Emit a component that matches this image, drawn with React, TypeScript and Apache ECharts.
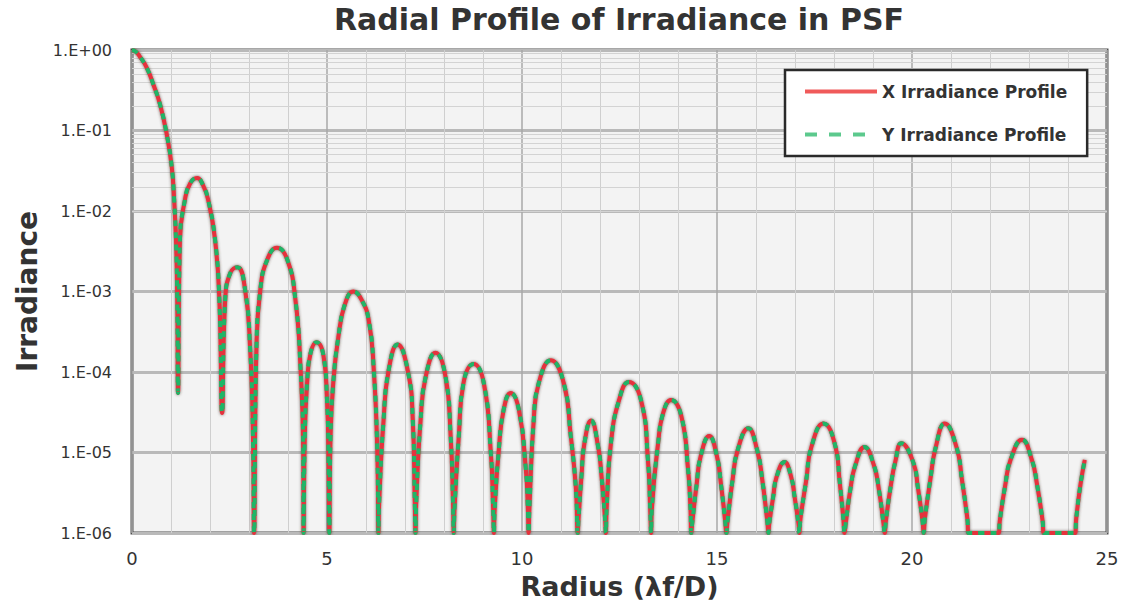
import React, { useEffect, useRef } from 'react';
import * as echarts from 'echarts';

const chartTitle = 'Radial Profile of Irradiance in PSF';
const xAxisName = 'Radius (λf/D)';
const yAxisName = 'Irradiance';
const seriesNames = ['X Irradiance Profile', 'Y Irradiance Profile'];

const radius = [
  0, 0.1, 0.2, 0.38, 0.55, 0.72, 0.9, 1.02, 1.08, 1.13, 1.16, 1.18,
  1.23, 1.36, 1.49, 1.67, 1.82, 1.95, 2.13, 2.24, 2.31,
  2.39, 2.52, 2.7, 2.9, 3.03, 3.1, 3.13,
  3.19, 3.29, 3.47, 3.72, 3.98, 4.19, 4.32, 4.39, 4.4,
  4.43, 4.49, 4.58, 4.73, 4.91, 5.0, 5.04, 5.06,
  5.09, 5.16, 5.29, 5.47, 5.68, 5.88, 6.07, 6.2, 6.29, 6.32,
  6.34, 6.45, 6.58, 6.81, 7.07, 7.2, 7.25, 7.27,
  7.29, 7.4, 7.53, 7.78, 8.04, 8.17, 8.23, 8.25,
  8.27, 8.38, 8.5, 8.76, 9.02, 9.2, 9.26, 9.28,
  9.3, 9.4, 9.53, 9.71, 9.92, 10.1, 10.15, 10.17,
  10.19, 10.3, 10.43, 10.74, 11.07, 11.25, 11.38, 11.43,
  11.45, 11.53, 11.6, 11.77, 11.95, 12.04, 12.13, 12.15,
  12.17, 12.28, 12.49, 12.74, 13.05, 13.23, 13.29, 13.31,
  13.33, 13.49, 13.62, 13.82, 14.08, 14.26, 14.32, 14.34,
  14.37, 14.48, 14.58, 14.8, 15.0, 15.1, 15.21, 15.24,
  15.27, 15.4, 15.53, 15.8, 16.03, 16.16, 16.29, 16.32,
  16.34, 16.44, 16.53, 16.73, 16.9, 16.99, 17.09, 17.11,
  17.14, 17.29, 17.42, 17.73, 18.04, 18.14, 18.24, 18.27,
  18.3, 18.42, 18.55, 18.78, 19.02, 19.15, 19.27, 19.3,
  19.33, 19.45, 19.57, 19.73, 20.03, 20.15, 20.27, 20.3,
  20.33, 20.47, 20.61, 20.84, 21.14, 21.28, 21.42, 21.45,
  22.22,
  22.25, 22.39, 22.53, 22.82, 23.07, 23.21, 23.35, 23.38,
  24.18, 24.21, 24.32, 24.43,
];

const xIrradiance = [
  1.0, 0.95, 0.83, 0.6, 0.37, 0.21, 0.085, 0.035, 0.014, 0.004, 8e-4, 5.5e-5,
  4.4e-3, 1.4e-2, 2.2e-2, 2.57e-2, 2.1e-2, 1.4e-2, 4.4e-3, 7.9e-4, 3.1e-5,
  7.9e-4, 1.7e-3, 2.0e-3, 1.05e-3, 1.9e-4, 1.7e-5, 1e-6,
  1.9e-4, 1.05e-3, 2.5e-3, 3.5e-3, 2.5e-3, 7.9e-4, 1.15e-4, 1.07e-5, 1e-6,
  1.5e-5, 7.3e-5, 1.73e-4, 2.35e-4, 1.6e-4, 4.5e-5, 8e-6, 1e-6,
  1.5e-5, 7.3e-5, 2.7e-4, 7.2e-4, 1.0e-3, 8e-4, 4.4e-4, 1.05e-4, 1e-5, 1e-6,
  2.5e-6, 2.5e-5, 1.05e-4, 2.2e-4, 1.05e-4, 2.5e-5, 2.5e-6, 1e-6,
  2.5e-6, 2.5e-5, 8.7e-5, 1.73e-4, 8.7e-5, 1.6e-5, 2.5e-6, 1e-6,
  2e-6, 1.6e-5, 7.3e-5, 1.26e-4, 7.3e-5, 1e-5, 2e-6, 1e-6,
  2e-6, 1e-5, 3.4e-5, 5.5e-5, 3.4e-5, 6e-6, 2e-6, 1e-6,
  2e-6, 2.5e-5, 7.3e-5, 1.4e-4, 7.3e-5, 1.6e-5, 3.7e-6, 1e-6,
  1.5e-6, 5.5e-6, 1.3e-5, 2.5e-5, 1.2e-5, 5e-6, 1.5e-6, 1e-6,
  2e-6, 1.3e-5, 4.5e-5, 7.5e-5, 4.5e-5, 8e-6, 1.8e-6, 1e-6,
  2e-6, 1.3e-5, 3.1e-5, 4.5e-5, 2.9e-5, 6e-6, 2e-6, 1e-6,
  1.4e-6, 4.1e-6, 8.9e-6, 1.6e-5, 8.9e-6, 4.1e-6, 1.4e-6, 1e-6,
  1.4e-6, 4.6e-6, 1.07e-5, 2.0e-5, 1.07e-5, 4.6e-6, 1.4e-6, 1e-6,
  1.3e-6, 2.8e-6, 5.0e-6, 7.6e-6, 5.0e-6, 2.8e-6, 1.3e-6, 1e-6,
  1.5e-6, 4.6e-6, 1.17e-5, 2.3e-5, 1.17e-5, 4.6e-6, 1.5e-6, 1e-6,
  1.3e-6, 3.5e-6, 7.0e-6, 1.17e-5, 7.0e-6, 3.5e-6, 1.3e-6, 1e-6,
  1.4e-6, 3.7e-6, 7.6e-6, 1.3e-5, 7.6e-6, 3.7e-6, 1.4e-6, 1e-6,
  1.5e-6, 4.6e-6, 1.17e-5, 2.3e-5, 1.17e-5, 4.6e-6, 1.5e-6, 1e-6,
  1e-6,
  1.4e-6, 3.9e-6, 8.2e-6, 1.44e-5, 8.2e-6, 3.9e-6, 1.4e-6, 1e-6,
  1e-6, 1.5e-6, 4e-6, 8.1e-6,
];

// The Y profile lies exactly on the X profile in the picture.
const yIrradiance = [...xIrradiance];

const yDecades = [-6, -5, -4, -3, -2, -1];
const minorMultipliers = [2, 3, 4, 5, 6, 7, 8, 9];

const FONT = '"DejaVu Sans", "Liberation Sans", Arial, sans-serif';
const TEXT = '#333333';

function formatExp(v: number): string {
  const e = Math.round(Math.log10(v));
  const a = Math.abs(e);
  return '1.E' + (e < 0 ? '-' : '+') + (a < 10 ? '0' + a : String(a));
}

export default function App() {
  const ref = useRef<HTMLDivElement | null>(null);

  useEffect(() => {
    document.body.style.margin = '0';
    if (!ref.current) return;
    const chart = echarts.init(ref.current, null, { renderer: 'svg' });

    const minorLevels: number[] = [];
    yDecades.forEach((d) => {
      minorMultipliers.forEach((m) => minorLevels.push(m * Math.pow(10, d)));
    });

    const xData = radius.map((r, i) => [r, xIrradiance[i]]);
    const yData = radius.map((r, i) => [r, yIrradiance[i]]);

    const hiddenSymbol = { color: 'rgba(0,0,0,0)', borderWidth: 0, borderColor: 'rgba(0,0,0,0)' };

    chart.setOption({
      animation: false,
      backgroundColor: '#ffffff',
      title: {
        text: chartTitle,
        left: 619,
        top: 4,
        padding: 0,
        textAlign: 'center',
        textStyle: { fontFamily: FONT, fontSize: 30, fontWeight: 'bold', color: TEXT },
      },
      legend: {
        data: [
          { name: seriesNames[0], itemStyle: hiddenSymbol, lineStyle: { color: '#f05a5a', width: 4, shadowBlur: 0, shadowColor: 'rgba(0,0,0,0)' } },
          { name: seriesNames[1], itemStyle: hiddenSymbol, lineStyle: { color: '#5cc98d', width: 4, type: [12, 12], shadowBlur: 0, shadowColor: 'rgba(0,0,0,0)' } },
        ],
        orient: 'vertical',
        left: 785,
        top: 70,
        padding: [13, 20, 13, 18],
        itemWidth: 72,
        itemHeight: 14,
        itemGap: 26,
        backgroundColor: '#ffffff',
        borderColor: '#2a2a2a',
        borderWidth: 2.5,
        borderRadius: 0,
        textStyle: { fontFamily: FONT, fontSize: 17, fontWeight: 'bold', color: TEXT },
      },
      grid: {
        left: 132,
        right: 15,
        top: 50,
        bottom: 74,
        show: true,
        backgroundColor: '#f3f3f3',
        borderColor: '#505050',
        borderWidth: 3,
        containLabel: false,
      },
      xAxis: {
        type: 'value',
        min: 0,
        max: 25,
        interval: 5,
        name: xAxisName,
        nameLocation: 'middle',
        nameGap: 40,
        nameTextStyle: { fontFamily: FONT, fontSize: 27, fontWeight: 'bold', color: TEXT },
        axisLine: { show: false },
        axisTick: { show: false },
        axisLabel: { fontFamily: FONT, fontSize: 18, color: TEXT, margin: 16 },
        splitLine: { show: true, lineStyle: { color: '#a9a9a9', width: 1.5 } },
        minorTick: { show: false, splitNumber: 5 },
        minorSplitLine: { show: true, lineStyle: { color: '#cfcfcf', width: 1 } },
      },
      yAxis: {
        type: 'log',
        logBase: 10,
        min: 1e-6,
        max: 1,
        splitNumber: 6,
        name: yAxisName,
        nameLocation: 'middle',
        nameGap: 90,
        nameTextStyle: { fontFamily: FONT, fontSize: 28, fontWeight: 'bold', color: TEXT },
        axisLine: { show: false },
        axisTick: { show: false },
        axisLabel: { fontFamily: FONT, fontSize: 16, color: TEXT, margin: 20, formatter: formatExp },
        splitLine: { show: true, lineStyle: { color: '#b9b9b9', width: 3 } },
      },
      series: [
        {
          name: seriesNames[0],
          type: 'line',
          data: xData,
          showSymbol: false,
          symbol: 'none',
          smooth: 0.5,
          z: 3,
          lineStyle: { color: '#e5303c', width: 4, shadowBlur: 3, shadowColor: 'rgba(70,55,45,0.75)' },
          itemStyle: { color: '#e5303c' },
          markLine: {
            silent: true,
            symbol: 'none',
            z: 1,
            label: { show: false },
            lineStyle: { color: '#d3d3d3', width: 1, type: 'solid' },
            emphasis: { disabled: true },
            data: minorLevels.map((v) => ({ yAxis: v })),
          },
        },
        {
          name: seriesNames[1],
          type: 'line',
          data: yData,
          showSymbol: false,
          symbol: 'none',
          smooth: 0.5,
          z: 4,
          lineStyle: { color: '#1fb567', width: 4, type: [6, 6] },
          itemStyle: { color: '#1fb567' },
        },
      ],
    });

    return () => chart.dispose();
  }, []);

  return <div ref={ref} style={{ width: 1122, height: 607 }} />;
}
